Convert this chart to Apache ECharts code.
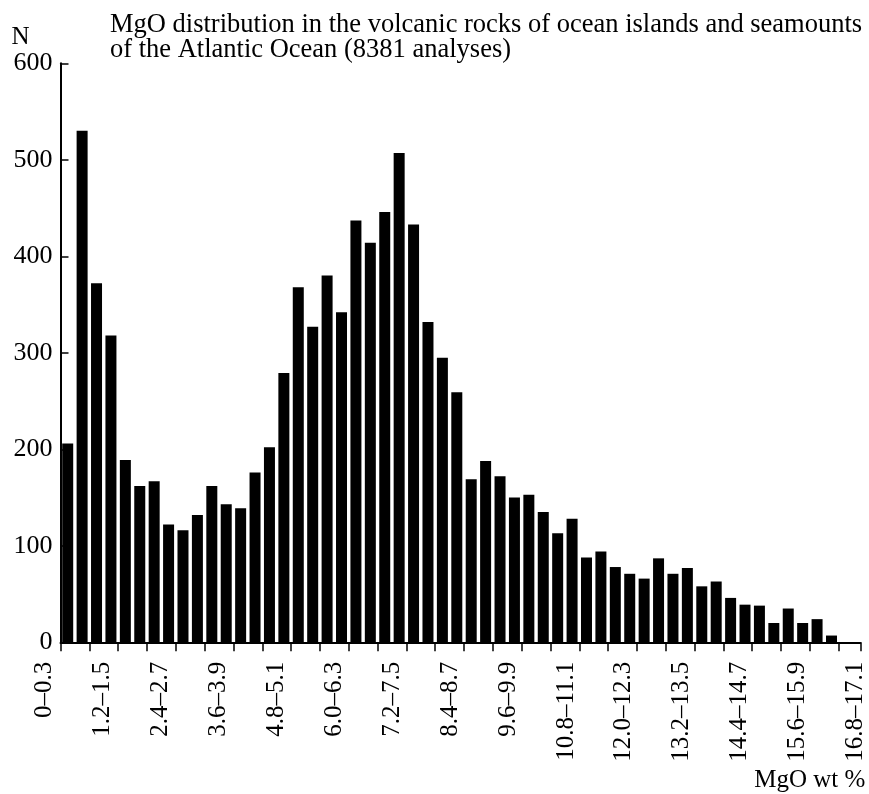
<!DOCTYPE html>
<html>
<head>
<meta charset="utf-8">
<script src="https://cdn.jsdelivr.net/npm/echarts@6/dist/echarts.min.js"></script>
<style>
html,body{margin:0;padding:0;background:#fff;}
#chart{width:869px;height:794px;}
</style>
</head>
<body>
<div id="chart"></div>
<script>
// MgO bins of 0.3 wt% (lower edges 0, 0.3, 0.6 ...)
const binWidth = 0.3;
const counts = [206,530,372,318,189,162,167,122,116,132,
                162,143,139,176,202,279,368,327,380,342,
                437,414,446,507,433,332,295,259,169,188,
                172,150,153,135,113,128,88,94,78,71,
                66,87,71,77,58,63,46,39,38,20,
                35,20,24,7];
const tickLabels = ['0–0.3','1.2–1.5','2.4–2.7','3.6–3.9','4.8–5.1','6.0–6.3','7.2–7.5',
                    '8.4–8.7','9.6–9.9','10.8–11.1','12.0–12.3','13.2–13.5','14.4–14.7',
                    '15.6–15.9','16.8–17.1'];
const yTicks = [0,100,200,300,400,500,600];
const titleText = 'MgO distribution in the volcanic rocks of ocean islands and seamounts\nof the Atlantic Ocean (8381 analyses)';

const FONT = 'Liberation Serif';
const barData = counts.map((v, i) => [(i + 0.5) * binWidth, v]);

const chart = echarts.init(document.getElementById('chart'), null, {renderer: 'canvas'});
chart.setOption({
  animation: false,
  backgroundColor: '#fff',
  title: {
    text: titleText,
    left: 110, top: 13,
    padding: 0,
    textStyle: {fontFamily: FONT, fontSize: 26.5, fontWeight: 'normal', color: '#000', lineHeight: 25}
  },
  grid: [
    {left: 60.5, right: 8.7, top: 63.3, bottom: 151.7, containLabel: false},
    {left: 44.2, right: 13.2, top: 63.3, bottom: 151.7, containLabel: false}
  ],
  xAxis: [
    {
      type: 'value', gridIndex: 0,
      min: 0, max: 55.5 * binWidth, interval: 2 * binWidth,
      splitLine: {show: false},
      axisLine: {show: true, lineStyle: {color: '#000', width: 2}},
      axisTick: {show: true, inside: false, length: 9, lineStyle: {color: '#000', width: 1.5}},
      axisLabel: {show: false},
      name: 'MgO wt %', nameLocation: 'end', nameGap: 5,
      nameTextStyle: {fontFamily: FONT, fontSize: 25, color: '#000', align: 'right', verticalAlign: 'top', padding: [126, 0, 0, 0]}
    },
    {
      type: 'category', gridIndex: 1, data: tickLabels, boundaryGap: false,
      axisLine: {show: false}, axisTick: {show: false}, splitLine: {show: false},
      axisLabel: {show: true, interval: 0, rotate: 90, margin: 19.4, fontFamily: FONT, fontSize: 25, color: '#000'}
    }
  ],
  yAxis: [
    {
      type: 'value', gridIndex: 0, min: yTicks[0], max: yTicks[yTicks.length - 1], interval: 100,
      splitLine: {show: false},
      axisLine: {show: true, lineStyle: {color: '#000', width: 2}},
      axisTick: {show: true, inside: true, length: 8, lineStyle: {color: '#000', width: 1.5}},
      axisLabel: {fontFamily: FONT, fontSize: 26, color: '#000', margin: 8},
      name: 'N', nameLocation: 'end', nameGap: 6,
      nameTextStyle: {fontFamily: FONT, fontSize: 25, color: '#000', align: 'right', verticalAlign: 'bottom', padding: [0, 31, 0, 0]}
    },
    {
      type: 'value', gridIndex: 1, min: 0, max: 600, show: false
    }
  ],
  series: [{
    type: 'bar', xAxisIndex: 0, yAxisIndex: 0,
    data: barData, barWidth: 11,
    itemStyle: {color: '#000'},
    silent: true
  }]
});
</script>
</body>
</html>
